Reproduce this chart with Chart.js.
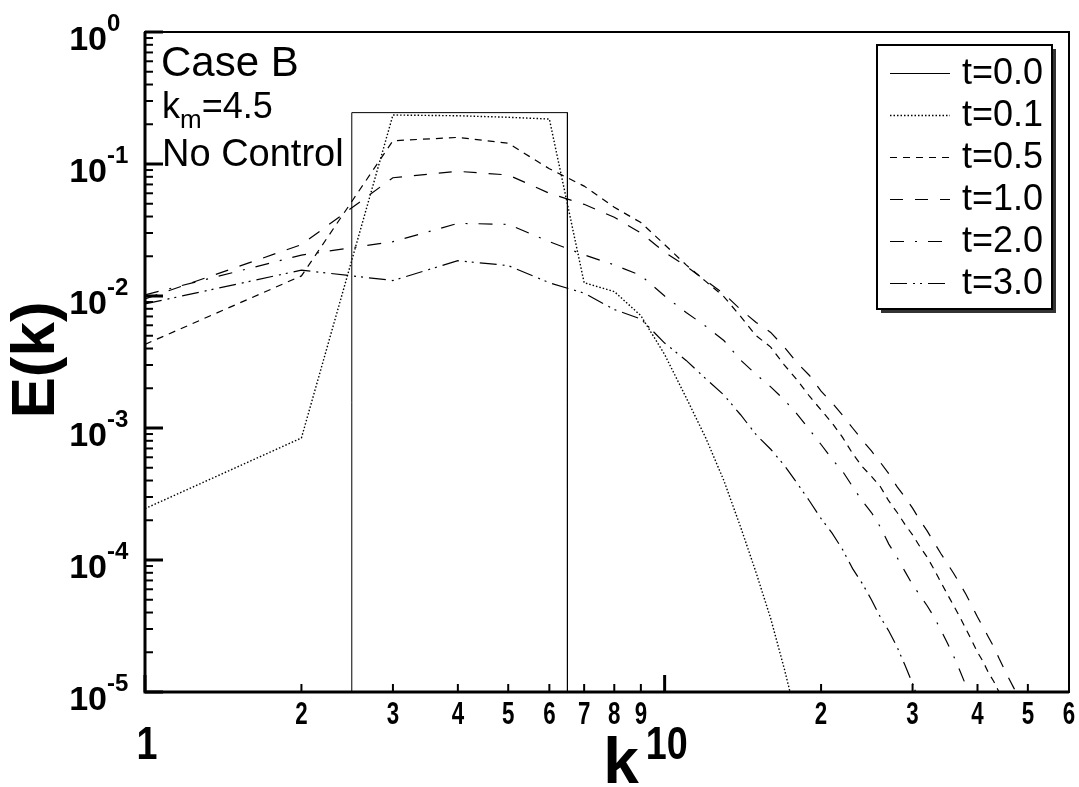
<!DOCTYPE html>
<html>
<head>
<meta charset="utf-8">
<script src="https://cdn.jsdelivr.net/npm/chart.js@4/dist/chart.umd.min.js"></script>
<style>
  html, body { margin: 0; padding: 0; background: #fff; }
  #wrap { width: 1079px; height: 787px; }
</style>
</head>
<body>
<div id="wrap"><canvas id="spectrum" width="1079" height="787"></canvas></div>
<script>
// wavenumbers (k = 1 .. 48)
const kVals = [1, 2, 3, 4, 5, 6, 7, 8, 9, 10, 11, 12, 13, 14, 15, 16, 17, 18, 19, 20,
  21, 22, 23, 24, 25, 26, 27, 28, 29, 30, 31, 32, 33, 34, 35, 36, 37, 38, 39, 40,
  41, 42, 43, 44, 45, 46, 47, 48];

// initial top-hat spectrum, t=0.0
const kBox = [2.5, 2.5, 6.5, 6.5];
const eT00 = [1e-8, 0.245, 0.245, 1e-8];

// E(k) at later times
const eT01 = [2.45e-4, 8.4e-4, 0.235, 0.232, 0.226, 0.219, 0.0126, 0.0108, 0.0071, 0.0036,
  0.0017, 8.4e-4, 4.0e-4, 1.78e-4, 8.0e-5, 3.6e-5, 1.49e-5, 6.0e-6];
const eT05 = [0.0043, 0.0142, 0.150, 0.159, 0.1435, 0.092, 0.068, 0.047, 0.036, 0.0245,
  0.0172, 0.0129, 0.0099, 0.0070, 0.0050, 0.0041, 0.0030, 0.0023, 0.00174, 0.00137,
  0.00109, 8.5e-4, 6.4e-4, 5.1e-4, 4.3e-4, 3.6e-4, 2.8e-4, 2.3e-4, 1.86e-4, 1.55e-4,
  1.26e-4, 1.05e-4, 8.5e-5, 6.8e-5, 5.5e-5, 4.5e-5, 3.7e-5, 3.0e-5, 2.45e-5, 2.0e-5,
  1.7e-5, 1.4e-5, 1.2e-5, 1.0e-5, 8.3e-6];
const eT10 = [0.0095, 0.0245, 0.0787, 0.088, 0.0826, 0.0600, 0.0495, 0.0395, 0.030, 0.0215,
  0.0168, 0.0131, 0.0104, 0.0079, 0.0063, 0.0053, 0.0041, 0.0031, 0.0025, 0.0019,
  0.00155, 0.00125, 0.0010, 8.1e-4, 6.7e-4, 5.5e-4, 4.5e-4, 3.6e-4, 3.0e-4, 2.47e-4,
  2.0e-4, 1.66e-4, 1.36e-4, 1.12e-4, 9.4e-5, 7.9e-5, 6.6e-5, 5.5e-5, 4.5e-5, 3.7e-5,
  3.1e-5, 2.6e-5, 2.2e-5, 1.8e-5, 1.5e-5, 1.26e-5, 1.07e-5, 9.1e-6];
const eT20 = [0.0102, 0.0204, 0.0258, 0.0355, 0.0349, 0.0258, 0.0205, 0.0172, 0.0143, 0.0100,
  0.0075, 0.0059, 0.0046, 0.00327, 0.00254, 0.00205, 0.00163, 0.00127, 9.7e-4, 7.5e-4,
  5.8e-4, 4.7e-4, 3.6e-4, 2.8e-4, 2.29e-4, 1.78e-4, 1.32e-4, 1.05e-4, 8.2e-5, 6.5e-5,
  5.4e-5, 4.5e-5, 3.7e-5, 2.95e-5, 2.35e-5, 1.86e-5, 1.45e-5, 1.12e-5, 8.7e-6];
const eT30 = [0.0087, 0.0157, 0.0131, 0.0185, 0.0170, 0.0126, 0.0105, 0.0079, 0.0067, 0.0044,
  0.00325, 0.00236, 0.00178, 0.00126, 0.00089, 0.00069, 0.00052, 3.8e-4, 2.8e-4, 2.06e-4,
  1.6e-4, 1.2e-4, 8.6e-5, 6.65e-5, 5.0e-5, 3.7e-5, 2.9e-5, 2.2e-5, 1.6e-5, 1.16e-5, 8.0e-6];

const seriesLabels = ["t=0.0", "t=0.1", "t=0.5", "t=1.0", "t=2.0", "t=3.0"];

// tick labels
const yExponents = [0, -1, -2, -3, -4, -5];
const xMinorValues = [2, 3, 4, 5, 6, 7, 8, 9, 20, 30, 40, 50, 60];
const xMinorText = ["2", "3", "4", "5", "6", "7", "8", "9", "2", "3", "4", "5", "6"];
const xMajorValues = [1, 10];
const xMajorText = ["1", "10"];

const notes = ["Case B", "No Control"];

function pts(xs, ys) {
    return ys.map((v, i) => ({ x: xs[i], y: v }));
}

const FONT = '"Liberation Sans", Arial, Helvetica, sans-serif';

// condensed bold digits, like the plot's axis numbers
function narrowText(ctx, text, x, y, size, squeeze) {
    ctx.save();
    ctx.translate(x, y);
    ctx.scale(squeeze, 1);
    ctx.font = "bold " + size + "px " + FONT;
    ctx.textAlign = "center";
    ctx.textBaseline = "alphabetic";
    ctx.fillText(text, 0, 0);
    ctx.restore();
}

// axes frame, inside ticks, labels, legend box and the notes
const decorations = {
    id: "decorations",
    afterDatasetsDraw(chart) {
        const ctx = chart.ctx;
        const a = chart.chartArea;
        const xs = chart.scales.x, ys = chart.scales.y;
        ctx.save();
        ctx.strokeStyle = "#000";
        ctx.fillStyle = "#000";
        ctx.setLineDash([]);

        // frame
        ctx.lineWidth = 2;
        ctx.strokeRect(a.left, a.top, a.right - a.left, a.bottom - a.top);
        ctx.lineWidth = 3;
        ctx.beginPath();
        ctx.moveTo(a.left, a.top);
        ctx.lineTo(a.left, a.bottom);
        ctx.lineTo(a.right, a.bottom);
        ctx.stroke();

        // y ticks (inside, left)
        yExponents.forEach(e => {
            const y = ys.getPixelForValue(Math.pow(10, e));
            ctx.lineWidth = 3;
            ctx.beginPath();
            ctx.moveTo(a.left, y);
            ctx.lineTo(a.left + 18, y);
            ctx.stroke();
            if (e > -5) {
                ctx.lineWidth = 2;
                for (let m = 2; m <= 9; m++) {
                    const ym = ys.getPixelForValue(m * Math.pow(10, e - 1));
                    ctx.beginPath();
                    ctx.moveTo(a.left, ym);
                    ctx.lineTo(a.left + 8, ym);
                    ctx.stroke();
                }
            }
            ctx.font = "bold 34px " + FONT;
            ctx.textAlign = "right";
            ctx.textBaseline = "alphabetic";
            ctx.fillText("10", 107, y + 18);
            ctx.font = "bold 24px " + FONT;
            ctx.textAlign = "left";
            ctx.fillText(e === 0 ? "0" : "-" + Math.abs(e), 107, y - 1);
        });

        // x ticks (inside, bottom)
        xMajorValues.forEach((v, i) => {
            const x = xs.getPixelForValue(v);
            ctx.lineWidth = 3;
            ctx.beginPath();
            ctx.moveTo(x, a.bottom);
            ctx.lineTo(x, a.bottom - 17);
            ctx.stroke();
            narrowText(ctx, xMajorText[i], x + 2, 759, 46, 0.82);
        });
        xMinorValues.forEach((v, i) => {
            const x = xs.getPixelForValue(v);
            ctx.lineWidth = 2;
            ctx.beginPath();
            ctx.moveTo(x, a.bottom);
            ctx.lineTo(x, a.bottom - 8);
            ctx.stroke();
            narrowText(ctx, xMinorText[i], x, 724, 31, 0.72);
        });

        // axis titles
        ctx.font = "bold 64px " + FONT;
        ctx.textAlign = "center";
        ctx.textBaseline = "alphabetic";
        ctx.fillText("k", 621, 783);
        ctx.save();
        ctx.translate(54, 360);
        ctx.rotate(-Math.PI / 2);
        ctx.font = "bold 62px " + FONT;
        ctx.fillText("E(k)", 0, 0);
        ctx.restore();

        // notes, top left
        ctx.textAlign = "left";
        ctx.font = "42px " + FONT;
        ctx.fillText(notes[0], 161, 76);
        ctx.font = "36px " + FONT;
        ctx.fillText("k", 162, 118);
        const kw = ctx.measureText("k").width;
        ctx.font = "26px " + FONT;
        ctx.fillText("m", 162 + kw, 128);
        const mw = ctx.measureText("m").width;
        ctx.font = "36px " + FONT;
        ctx.fillText("=4.5", 162 + kw + mw, 118);
        ctx.font = "38px " + FONT;
        ctx.fillText(notes[1], 162, 166);

        // legend box with shadow
        const lx = 877, ly = 45, lw = 175, lh = 264;
        ctx.fillStyle = "#333";
        ctx.fillRect(lx + 4, ly + 4, lw, lh);
        ctx.fillStyle = "#fff";
        ctx.fillRect(lx, ly, lw, lh);
        ctx.lineWidth = 2;
        ctx.strokeRect(lx, ly, lw, lh);
        ctx.fillStyle = "#000";
        ctx.font = "36px " + FONT;
        chart.data.datasets.forEach((ds, i) => {
            const cy = 73 + i * 42;
            ctx.lineWidth = ds.borderWidth;
            ctx.setLineDash(ds.borderDash || []);
            ctx.beginPath();
            ctx.moveTo(890, cy + 0.5);
            ctx.lineTo(950, cy + 0.5);
            ctx.stroke();
            ctx.setLineDash([]);
            ctx.textBaseline = "middle";
            ctx.fillText(ds.label, 962, cy + 1);
        });
        ctx.restore();
    }
};

const lineStyle = {
    borderColor: "#000",
    borderWidth: 1.2,
    pointRadius: 0,
    fill: false,
    tension: 0
};

new Chart(document.getElementById("spectrum"), {
    type: "line",
    data: {
        datasets: [
            { ...lineStyle, label: seriesLabels[0], data: pts(kBox, eT00), borderDash: [], borderWidth: 1 },
            { ...lineStyle, label: seriesLabels[1], data: pts(kVals, eT01), borderDash: [1.5, 2], borderWidth: 1.4 },
            { ...lineStyle, label: seriesLabels[2], data: pts(kVals, eT05), borderDash: [7, 6] },
            { ...lineStyle, label: seriesLabels[3], data: pts(kVals, eT10), borderDash: [13, 12] },
            { ...lineStyle, label: seriesLabels[4], data: pts(kVals, eT20), borderDash: [14, 11, 2, 11] },
            { ...lineStyle, label: seriesLabels[5], data: pts(kVals, eT30), borderDash: [17, 6, 2, 5, 2, 6] }
        ]
    },
    options: {
        responsive: false,
        animation: false,
        devicePixelRatio: 1,
        layout: { padding: { left: 145, right: 10, top: 32, bottom: 95 } },
        scales: {
            x: { type: "logarithmic", min: 1, max: 60, display: false },
            y: { type: "logarithmic", min: 1e-5, max: 1, display: false }
        },
        plugins: {
            legend: { display: false },
            tooltip: { enabled: false }
        }
    },
    plugins: [decorations]
});
</script>
</body>
</html>
